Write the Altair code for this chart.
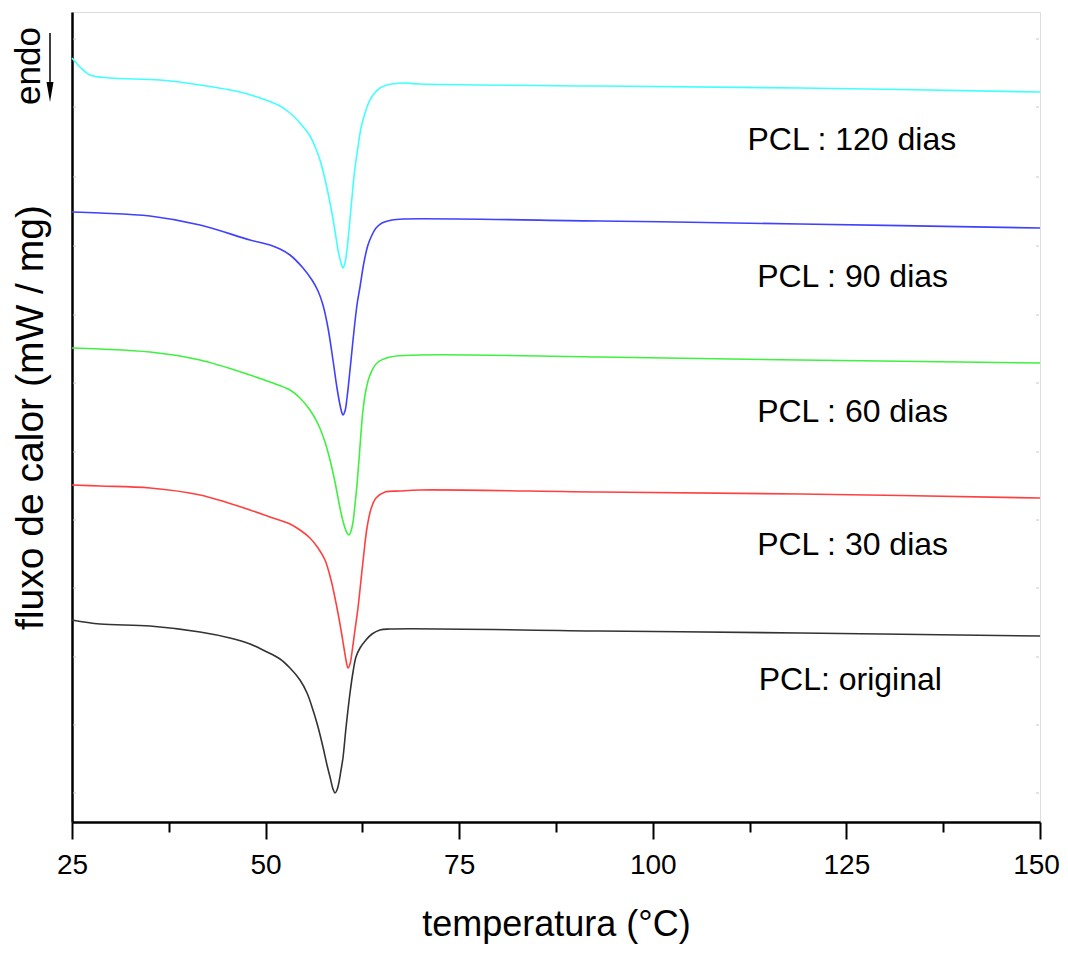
import altair as alt
import pandas as pd

# ---- data (temperature in °C, heat flow in arbitrary units) ----
t_120 = [25.0, 26.03, 27.32, 29.91, 36.36, 41.53, 46.69, 49.28, 51.86, 53.15, 54.44, 55.73, 56.51, 57.02, 57.54,
         58.06, 58.57, 58.96, 59.35, 59.61, 59.86, 59.99, 60.25, 60.51, 60.77, 61.16, 61.54, 61.93, 62.32, 62.84,
         63.35, 63.87, 64.77, 65.68, 67.74, 69.94, 93.18, 119.01, 150.0]
v_120 = [764, 755, 747, 744, 742, 737, 730, 724, 716, 709, 699, 686, 673, 662, 647,
         629, 609, 591, 572, 563, 556, 554, 559, 572, 592, 625, 654, 675, 694, 709,
         720, 727, 734, 737, 739, 738, 736, 734, 730]

t_90 = [25.0, 28.62, 35.07, 41.53, 47.99, 50.57, 51.86, 53.15, 54.83, 55.99, 56.77, 57.41, 58.06, 58.70, 59.22,
        59.61, 59.86, 59.99, 60.25, 60.51, 60.90, 61.29, 61.80, 62.19, 62.71, 63.22, 63.74, 64.26, 65.03, 66.32,
        67.74, 93.18, 119.01, 150.0]
v_90 = [610, 609, 606, 597, 582, 577, 573, 567, 554, 542, 531, 517, 494, 462, 434,
        417, 409, 407, 411, 424, 452, 482, 517, 535, 560, 577, 587, 594, 599, 602,
        603, 601, 598, 594]

t_60 = [25.0, 28.62, 35.07, 41.53, 47.99, 50.57, 53.15, 54.44, 55.73, 56.77, 57.67, 58.32, 58.96, 59.48, 59.86,
        60.25, 60.51, 60.77, 61.03, 61.29, 61.54, 61.80, 62.06, 62.32, 62.58, 62.96, 63.48, 64.38, 66.06, 69.94,
        93.18, 119.01, 150.0]
v_60 = [474, 473, 470, 462, 447, 440, 432, 424, 412, 398, 380, 362, 340, 319, 305,
        294, 289, 287, 291, 300, 317, 337, 362, 389, 412, 432, 447, 459, 465, 467,
        465, 462, 459]

t_30 = [25.0, 28.62, 35.07, 41.53, 47.99, 50.57, 53.15, 54.44, 55.73, 56.77, 57.67, 58.45, 59.22, 59.74, 60.12,
        60.38, 60.64, 60.90, 61.16, 61.54, 61.93, 62.32, 62.71, 63.09, 63.61, 64.26, 65.42, 67.36, 69.94, 93.18,
        119.01, 150.0]
v_30 = [337, 336, 334, 327, 312, 305, 298, 292, 284, 274, 262, 242, 214, 192, 174,
        162, 154, 158, 170, 192, 214, 242, 270, 294, 313, 324, 330, 331, 332, 330,
        328, 324]

t_0 = [25.0, 28.62, 35.07, 41.53, 45.40, 47.99, 49.92, 51.86, 53.15, 54.44, 55.35, 56.12, 56.77, 57.41, 57.93,
       58.32, 58.70, 58.96, 59.22, 59.48, 59.74, 59.99, 60.38, 60.90, 61.29, 61.67, 62.19, 62.96, 63.74, 64.77,
       66.06, 93.18, 119.01, 150.0]
v_0 = [202, 198, 196, 190, 184, 178, 171, 163, 154, 142, 129, 112, 95, 75, 57,
       45, 33, 29, 32, 40, 52, 64, 94, 129, 150, 165, 174, 182, 188, 192,
       193, 191, 189, 186]

series_names = ["PCL : 120 dias", "PCL : 90 dias", "PCL : 60 dias", "PCL : 30 dias", "PCL: original"]
series_colors = ["#40FFFF", "#4040FF", "#40F040", "#FF4040", "#333333"]

label_text = series_names
label_temp = [125.7, 125.8, 125.8, 125.8, 125.5]
label_val = [682, 545, 410, 277, 142]

x_major = [25, 50, 75, 100, 125, 150]
x_minor = [37.5, 62.5, 87.5, 112.5, 137.5]
y_minor = [783, 715, 645, 576, 507, 439, 370, 302, 234, 165, 97, 29]

rows = []
for name, ts, vs in zip(series_names, [t_120, t_90, t_60, t_30, t_0], [v_120, v_90, v_60, v_30, v_0]):
    for i, (t, v) in enumerate(zip(ts, vs)):
        rows.append({"serie": name, "temp": t, "val": v, "i": i})
df = pd.DataFrame(rows)
labels_df = pd.DataFrame({"txt": label_text, "temp": label_temp, "val": label_val})
ytick_df = pd.DataFrame({"val": y_minor})

FONT = "Liberation Sans"

xscale = alt.Scale(domain=[25, 150], nice=False, zero=False)
yscale = alt.Scale(domain=[0, 810], nice=False, zero=False)

x_axis = alt.Axis(
    values=sorted(x_major + x_minor),
    tickSize={"condition": {"test": "datum.value % 25 === 0", "value": 17}, "value": 10},
    labelExpr="datum.value % 25 === 0 ? datum.label : ''",
    labelOffset={"condition": {"test": "datum.value === 150", "value": -4}, "value": 0},
    title="temperatura (°C)",
    grid=False,
    domainColor="black", domainWidth=2.5,
    tickColor="black", tickWidth=2,
    labelFont=FONT, labelFontSize=28, labelColor="black", labelPadding=12,
    labelFlush=False, labelOverlap=False,
    titleFont=FONT, titleFontSize=36, titleFontWeight="normal", titleColor="black", titlePadding=28,
)
y_axis = alt.Axis(
    ticks=False, labels=False, grid=False,
    domainColor="black", domainWidth=2.5,
    title="fluxo de calor (mW / mg)",
    titleFont=FONT, titleFontSize=39, titleFontWeight="normal", titleColor="black", titlePadding=22,
)

lines = alt.Chart(df).mark_line(strokeWidth=1.6, interpolate="catmull-rom").encode(
    x=alt.X("temp:Q", scale=xscale, axis=x_axis),
    y=alt.Y("val:Q", scale=yscale, axis=y_axis),
    color=alt.Color("serie:N", scale=alt.Scale(domain=series_names, range=series_colors), legend=None),
    order="i:Q",
)

texts = alt.Chart(labels_df).mark_text(font=FONT, fontSize=32, color="black", align="center", baseline="middle").encode(
    x=alt.X("temp:Q", scale=xscale),
    y=alt.Y("val:Q", scale=yscale),
    text="txt:N",
)

yticks_left = alt.Chart(ytick_df).mark_rule(color="#c8c8c8", strokeWidth=1).encode(
    x=alt.value(1), x2=alt.value(4), y=alt.Y("val:Q", scale=yscale),
)
yticks_right = alt.Chart(ytick_df).mark_rule(color="#c8c8c8", strokeWidth=1).encode(
    x=alt.value(964), x2=alt.value(967), y=alt.Y("val:Q", scale=yscale),
)

endo = alt.Chart(pd.DataFrame({"t": ["endo"]})).mark_text(
    font=FONT, fontSize=35, color="black", angle=270, align="center", baseline="alphabetic"
).encode(x=alt.value(-32), y=alt.value(54), text="t:N")

arrow_shaft = alt.Chart(pd.DataFrame({"a": [0]})).mark_rule(color="black", strokeWidth=1.5).encode(
    x=alt.value(-22), y=alt.value(21), y2=alt.value(76)
)
arrow_head = alt.Chart(pd.DataFrame({"a": [0]})).mark_point(
    shape="M-0.35,-1L0.35,-1L0,1Z", filled=True, color="black", size=400, opacity=1
).encode(x=alt.value(-22), y=alt.value(80))

chart = alt.layer(lines, texts, yticks_left, yticks_right, endo, arrow_shaft, arrow_head).properties(
    width=968, height=810,
    padding={"left": 64, "top": 4, "right": 20, "bottom": 125},
    autosize=alt.AutoSizeParams(type="none"),
).configure_view(stroke="black", strokeWidth=2).configure(background="white")

chart.save("out.html", embed_options={"renderer": "svg", "actions": False})
